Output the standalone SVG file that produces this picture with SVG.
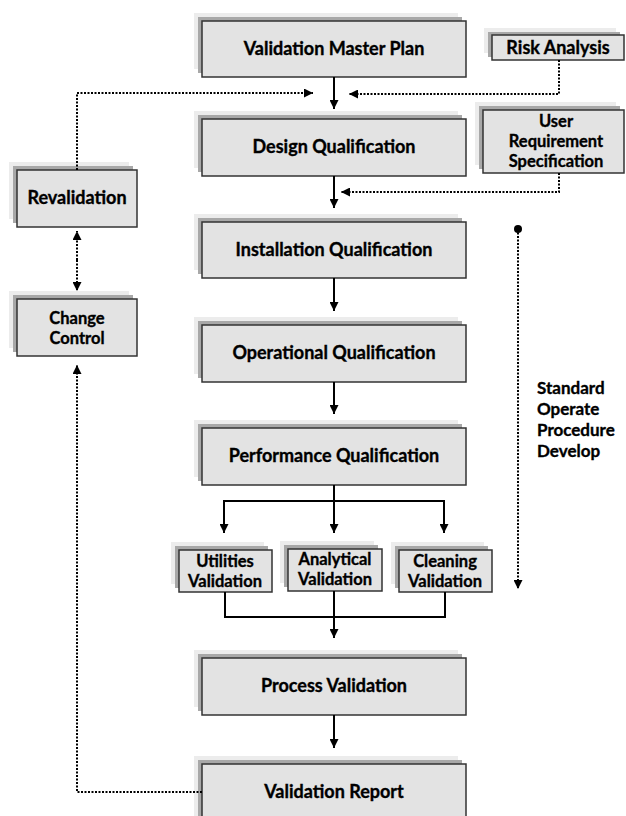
<svg xmlns="http://www.w3.org/2000/svg" width="626" height="816" viewBox="0 0 626 816">
<style>
.s1{fill:#ececec}
.s2{fill:#a8a8a8}
.bx{fill:#e3e3e3;stroke:#333;stroke-width:1.5}
.t{font-family:Lato,"Open Sans","DejaVu Sans",sans-serif;font-weight:bold;font-size:18px;fill:#000;stroke:#000;stroke-width:0.35;text-anchor:middle}
.m{font-size:16.5px}
.tl{font-family:Lato,"Open Sans","DejaVu Sans",sans-serif;font-weight:bold;font-size:17px;fill:#000;stroke:#000;stroke-width:0.35}
.sol{fill:none;stroke:#000;stroke-width:2}
.dot{fill:none;stroke:#000;stroke-width:2;stroke-dasharray:2 1.5}
</style>
<defs>
<marker id="ah" viewBox="0 0 10 10" refX="10" refY="5" markerWidth="9" markerHeight="9" markerUnits="userSpaceOnUse" orient="auto">
<path d="M0,0 L10,5 L0,10 z" fill="#000"/>
</marker>
</defs>
<rect width="626" height="816" fill="#fff"/>

<g id="vmp"><rect class="s1" x="194" y="13" width="264" height="56"/><rect class="s2" x="198" y="17" width="264" height="56"/><rect class="bx" x="202" y="21" width="264" height="56"/><text class="t" x="334" y="55">Validation Master Plan</text></g>
<g id="dq"><rect class="s1" x="194" y="111" width="264" height="57"/><rect class="s2" x="198" y="115" width="264" height="57"/><rect class="bx" x="202" y="119" width="264" height="57"/><text class="t" x="334" y="153">Design Qualification</text></g>
<g id="iq"><rect class="s1" x="194" y="214" width="264" height="56"/><rect class="s2" x="198" y="218" width="264" height="56"/><rect class="bx" x="202" y="222" width="264" height="56"/><text class="t" x="334" y="256">Installation Qualification</text></g>
<g id="oq"><rect class="s1" x="194" y="317" width="264" height="57"/><rect class="s2" x="198" y="321" width="264" height="57"/><rect class="bx" x="202" y="325" width="264" height="57"/><text class="t" x="334" y="359">Operational Qualification</text></g>
<g id="pq"><rect class="s1" x="194" y="420" width="264" height="57"/><rect class="s2" x="198" y="424" width="264" height="57"/><rect class="bx" x="202" y="428" width="264" height="57"/><text class="t" x="334" y="462">Performance Qualification</text></g>
<g id="pv"><rect class="s1" x="194" y="650" width="264" height="57"/><rect class="s2" x="198" y="654" width="264" height="57"/><rect class="bx" x="202" y="658" width="264" height="57"/><text class="t" x="334" y="692">Process Validation</text></g>
<g id="vr"><rect class="s1" x="194" y="756" width="264" height="60"/><rect class="s2" x="198" y="760" width="264" height="60"/><rect class="bx" x="202" y="764" width="264" height="60"/><text class="t" x="334" y="798">Validation Report</text></g>

<g id="ra"><rect class="s1" x="484" y="28" width="132" height="25"/><rect class="s2" x="488" y="32" width="132" height="25"/><rect class="bx" x="492" y="35" width="132" height="25"/><text class="t" x="558" y="54">Risk Analysis</text></g>
<g id="urs"><rect class="s1" x="475" y="102" width="141" height="63"/><rect class="s2" x="479" y="106" width="141" height="63"/><rect class="bx" x="483" y="110" width="141" height="63"/><text class="t m" x="556" y="127">User</text><text class="t m" x="556" y="147">Requirement</text><text class="t m" x="556" y="167">Specification</text></g>

<g id="reval"><rect class="s1" x="9" y="162" width="120" height="57"/><rect class="s2" x="13" y="166" width="120" height="57"/><rect class="bx" x="17" y="170" width="120" height="57"/><text class="t" x="77" y="204">Revalidation</text></g>
<g id="cc"><rect class="s1" x="9" y="291" width="120" height="57"/><rect class="s2" x="13" y="295" width="120" height="57"/><rect class="bx" x="17" y="299" width="120" height="57"/><text class="t m" x="77" y="324">Change</text><text class="t m" x="77" y="344">Control</text></g>

<g id="uv"><rect class="s1" x="171" y="542" width="93" height="42"/><rect class="s2" x="175" y="546" width="93" height="42"/><rect class="bx" x="179" y="550" width="93" height="42"/><text class="t m" x="225" y="567">Utilities</text><text class="t m" x="225" y="587">Validation</text></g>
<g id="av"><rect class="s1" x="280" y="541" width="94" height="42"/><rect class="s2" x="284" y="545" width="94" height="42"/><rect class="bx" x="288" y="549" width="94" height="42"/><text class="t m" x="335" y="565">Analytical</text><text class="t m" x="335" y="585">Validation</text></g>
<g id="cv"><rect class="s1" x="391" y="542" width="93" height="42"/><rect class="s2" x="395" y="546" width="93" height="42"/><rect class="bx" x="399" y="550" width="93" height="42"/><text class="t m" x="445" y="567">Cleaning</text><text class="t m" x="445" y="587">Validation</text></g>

<g id="sop"><text class="tl" x="537" y="394">Standard</text><text class="tl" x="537" y="415">Operate</text><text class="tl" x="537" y="436">Procedure</text><text class="tl" x="537" y="457">Develop</text></g>

<g id="connectors">
<path class="sol" d="M334,77 V109" marker-end="url(#ah)"/>
<path class="sol" d="M334,176 V208" marker-end="url(#ah)"/>
<path class="sol" d="M334,278 V311" marker-end="url(#ah)"/>
<path class="sol" d="M334,382 V414" marker-end="url(#ah)"/>
<path class="sol" d="M334,485 V501 M224,501 H444"/>
<path class="sol" d="M224,500 V533" marker-end="url(#ah)"/>
<path class="sol" d="M334,500 V533" marker-end="url(#ah)"/>
<path class="sol" d="M444,500 V533" marker-end="url(#ah)"/>
<path class="sol" d="M225,592 V617 H445 V592 M334,591 V617"/>
<path class="sol" d="M334,616 V638" marker-end="url(#ah)"/>
<path class="sol" d="M334,715 V748" marker-end="url(#ah)"/>
<path class="dot" d="M559,60 V94 H349" marker-end="url(#ah)"/>
<path class="dot" d="M559,173 V192 H341" marker-end="url(#ah)"/>
<path class="dot" d="M77,170 V93 H313" marker-end="url(#ah)"/>
<path class="dot" d="M77,260 V231" marker-end="url(#ah)"/>
<path class="dot" d="M77,260 V291" marker-end="url(#ah)"/>
<path class="dot" d="M202,792 H77 V365" marker-end="url(#ah)"/>
<circle cx="518" cy="229" r="4" fill="#000"/>
<path class="dot" d="M518,229 V589" marker-end="url(#ah)"/>
</g>
</svg>
